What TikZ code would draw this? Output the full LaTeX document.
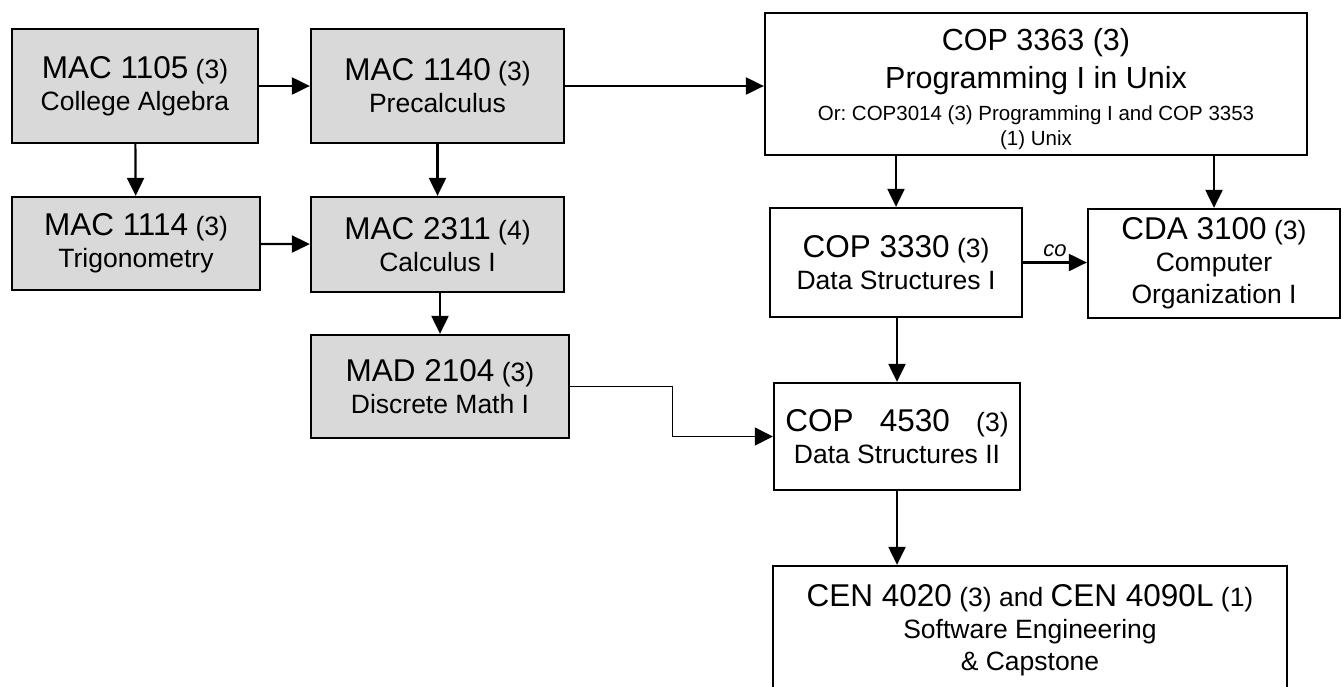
\documentclass[tikz,border=0pt]{standalone}
\usepackage{fontspec}
\setmainfont{Liberation Sans}
\usetikzlibrary{arrows.meta}
\definecolor{boxgray}{RGB}{217,217,217}
\newcommand{\cid}[1]{{\fontsize{31.5}{32}\selectfont #1}}
\frenchspacing

\begin{document}
\begin{tikzpicture}[x=1pt,y=-1pt,
	box/.style={draw, line width=2.3pt, align=center, inner sep=0pt, font=\fontsize{26.5}{32}\selectfont},
	mathbox/.style={box, fill=boxgray},
	arr/.style={line width=2.2pt, -{Triangle[length=18pt,width=17pt]}},
	thinarr/.style={line width=1pt, -{Triangle[length=18pt,width=18pt]}}]
				\useasboundingbox (0,0) rectangle (1343,686);
				
				\node[mathbox, minimum width=246pt, minimum height=114pt] (mac1105) at (135,86) {\cid{MAC 1105} (3)\\College Algebra};
				\node[mathbox, minimum width=253pt, minimum height=114pt] (mac1140) at (437.5,86) {\cid{MAC 1140} (3)\\Precalculus};
				\node[mathbox, minimum width=248pt, minimum height=93pt] (mac1114) at (136,243.5) {\cid{MAC 1114} (3)\\Trigonometry};
				\node[mathbox, minimum width=253pt, minimum height=95pt] (mac2311) at (437.5,244.5) {\cid{MAC 2311} (4)\\Calculus I};
				\node[mathbox, minimum width=258pt, minimum height=103pt] (mad2104) at (440,386.5) {\cid{MAD 2104} (3)\\Discrete Math I};
				
				\node[box, minimum width=542pt, minimum height=142pt, font=\fontsize{30.5}{38}\selectfont] (cop3363) at (1036,84)
					{\rule{0pt}{32pt}COP 3363 (3)\\Programming I in Unix\\[-6pt]\fontsize{20.5}{25}\selectfont Or: COP3014 (3) Programming I and COP 3353\\[-13pt]\fontsize{20.5}{25}\selectfont (1) Unix};
				\node[box, minimum width=252pt, minimum height=109pt] (cop3330) at (896,262.5) {\cid{COP 3330} (3)\\Data Structures I};
				\node[box, minimum width=252pt, minimum height=109pt] (cda3100) at (1214,263.5) {\cid{CDA 3100} (3)\\Computer\\Organization I};
				\node[box, minimum width=246pt, minimum height=107pt] (cop4530) at (897,436.5) {\cid{COP~~~4530~~~}(3)\\Data Structures II};
				\node[box, minimum width=514pt, minimum height=128pt] (cen4020) at (1030,630) {\cid{CEN 4020} (3) and \cid{CEN 4090L} (1)\\Software Engineering\\\& Capstone};
				
				\draw[arr] (mac1105) -- (mac1140);
				\draw[arr] (mac1140.east) -- (mac1140.east -| cop3363.west);
				\draw[arr] (mac1105) -- (mac1114);
				\draw[arr] (mac1140) -- (mac2311);
				\draw[arr] (mac1114) -- (mac2311);
				\draw[arr] (mad2104.north |- mac2311.south) -- (mad2104.north);
				\draw[thinarr] (mad2104.east) -- ++(102,0) |- (cop4530.west);
				
				\draw[arr] (cop3330.north |- cop3363.south) -- (cop3330.north);
				\draw[arr] (cda3100.north |- cop3363.south) -- (cda3100.north);
				\draw[arr] (cop3330.east) -- node[above=5pt, inner sep=0pt, font=\fontsize{22}{24}\selectfont\itshape] {co} (cop3330.east -| cda3100.west);
				\draw[arr] (cop3330.south -| cop4530.north) -- (cop4530.north);
				\draw[arr] (cop4530.south) -- (cop4530.south |- cen4020.north);
			\end{tikzpicture}
\end{document}
